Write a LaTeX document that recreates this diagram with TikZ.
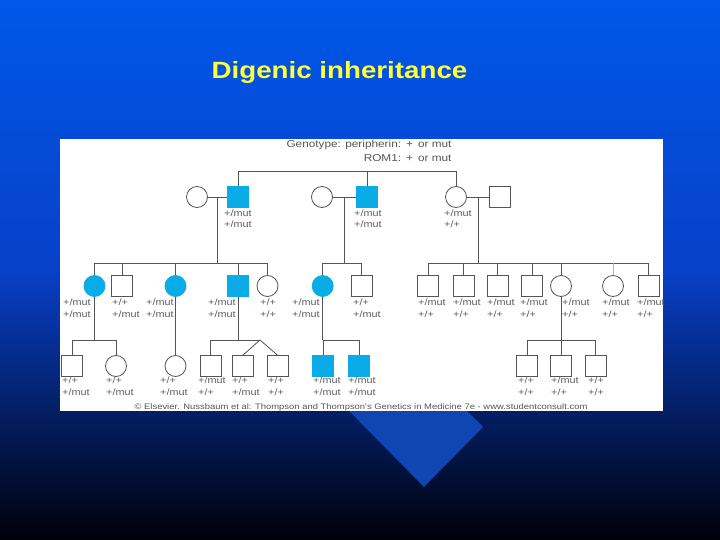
\documentclass[tikz,border=0pt]{standalone}
\usepackage{fontspec}
\setmainfont{Liberation Sans}
\newfontfamily\slidefont[FakeStretch=1.18]{Liberation Sans}
\definecolor{slideblue}{RGB}{0,88,232}
\definecolor{slidemid}{RGB}{8,64,200}
\definecolor{slidenight}{RGB}{0,0,8}
\definecolor{slidediamond}{RGB}{15,70,180}
\definecolor{titleyellow}{RGB}{255,255,60}
\definecolor{pedcyan}{RGB}{10,172,232}
\definecolor{pedgray}{RGB}{85,85,85}
\definecolor{genogray}{RGB}{95,95,95}
\usetikzlibrary{positioning}

\begin{document}
\begin{tikzpicture}[
  x=1pt,y=-1pt,
  every node/.style={font=\slidefont},
  male/.style={rectangle,draw=pedgray,line width=0.8pt,fill=white,
               minimum size=21pt,inner sep=0pt},
  female/.style={circle,draw=pedgray,line width=0.8pt,fill=white,
                 minimum size=21pt,inner sep=0pt},
  hit/.style={fill=pedcyan,draw=pedcyan},
  geno/.style={anchor=base west,align=left,inner sep=0pt,text=genogray,
               font=\slidefont\fontsize{9.2}{11.6}\selectfont},
  pedline/.style={draw=pedgray,line width=0.8pt},
]
  \useasboundingbox (0,0) rectangle (720,540);

  % Slide background
  \fill[top color=slideblue,bottom color=slidemid] (0,0) rectangle (720,270);
  \fill[top color=slidemid,bottom color=slidenight] (0,270) rectangle (720,540);
  \fill[slidediamond] (424,487) -- (483,427) -- (353,295) -- (294,355) -- cycle;
  \fill[white] (60,139) rectangle (663,411);

  % Title
  \node[anchor=base,text=titleyellow,
        font=\slidefont\bfseries\fontsize{23.5}{28}\selectfont] (title)
    at (339.5,78.3) {Digenic inheritance};

  % Key
  \node[anchor=base east,text=pedgray,font=\slidefont\fontsize{10}{12}\selectfont]
    (key1) at (455,147.7) {Genotype: peripherin:\enspace+\enspace or mut};
  \node[anchor=base east,text=pedgray,font=\slidefont\fontsize{10}{12}\selectfont]
    (key2) at (455,161.7) {ROM1:\enspace+\enspace or mut};

  % Couples
  \node[female]     (wA) at (197,197) {};
  \node[male,hit]   (mA) at (238,197) {};
  \node[female]     (wB) at (322,197) {};
  \node[male,hit]   (mB) at (367,197) {};
  \node[female]     (fC) at (456,197) {};
  \node[male]       (hC) at (500,197) {};

  % Second row
  \node[female,hit] (a1) at (94.5,286) {};
  \node[male]       (a2) at (122,286) {};
  \node[female,hit] (a3) at (175.5,286) {};
  \node[male,hit]   (a4) at (238,286) {};
  \node[female]     (a5) at (267.5,286) {};
  \node[female,hit] (b1) at (322.7,286) {};
  \node[male]       (b2) at (361.5,286) {};
  \node[male]       (c1) at (428,286) {};
  \node[male]       (c2) at (463.5,286) {};
  \node[male]       (c3) at (497.5,286) {};
  \node[male]       (c4) at (532,286) {};
  \node[female]     (c5) at (561,286) {};
  \node[female]     (c6) at (613,286) {};
  \node[male]       (c7) at (648.5,286) {};

  % Third row
  \node[male]       (g1) at (72,366) {};
  \node[female]     (g2) at (116,366) {};
  \node[female]     (h1) at (175.5,366) {};
  \node[male]       (k1) at (210.5,366) {};
  \node[male]       (k2) at (243,366) {};
  \node[male]       (k3) at (277.5,366) {};
  \node[male,hit]   (n1) at (323,366) {};
  \node[male,hit]   (n2) at (359,366) {};
  \node[male]       (p1) at (527,366) {};
  \node[male]       (p2) at (561,366) {};
  \node[male]       (p3) at (595.5,366) {};

  % Lines of descent
  \coordinate (gp) at (0,171);
  \coordinate (sibA) at (0,263);
  \coordinate (sibG) at (0,340);
  \coordinate (twin) at (260,340);
  \draw[pedline] (mA.north) -- (mA.north |- gp) -| (fC.north);
  \draw[pedline] (mB.north) -- (mB.north |- gp);
  \draw[pedline] (wA) -- coordinate (dA) (mA);
  \draw[pedline] (wB) -- coordinate (dB) (mB);
  \draw[pedline] (fC) -- coordinate (dC) (hC);
  \draw[pedline] (dA) -- (dA |- sibA);
  \draw[pedline] (dB) -- (dB |- sibA);
  \draw[pedline] (dC) -- (dC |- sibA);
  \draw[pedline] (a1.north) -- (a1.north |- sibA) -| (a5.north);
  \foreach \kid in {a2,a3,a4}
    \draw[pedline] (\kid.north) -- (\kid.north |- sibA);
  \draw[pedline] (b1.north) -- (b1.north |- sibA) -| (b2.north);
  \draw[pedline] (c1.north) -- (c1.north |- sibA) -| (c7.north);
  \foreach \kid in {c2,c3,c4,c5}
    \draw[pedline] (\kid.north) -- (\kid.north |- sibA);
  \draw[pedline,draw=pedgray!45] (c6.north) -- (c6.north |- sibA);

  \draw[pedline] (a1.south) -- (a1.south |- sibG);
  \draw[pedline] (g1.north) -- (g1.north |- sibG) -| (g2.north);
  \draw[pedline] (a3.south) -- (h1.north);
  \draw[pedline] (a4.south) -- (a4.south |- sibG);
  \draw[pedline] (k1.north) -- (k1.north |- sibG) -- (twin);
  \draw[pedline] (k2.north) -- (twin) -- (k3.north);
  \draw[pedline] (b1.south) -- (b1.south |- sibG);
  \draw[pedline] (n1.north) -- (n1.north |- sibG) -| (n2.north);
  \draw[pedline] (c5.south) -- (c5.south |- sibG);
  \draw[pedline] (p1.north) -- (p1.north |- sibG) -| (p3.north);
  \draw[pedline] (p2.north) -- (p2.north |- sibG);

  % Genotypes (anchored on the second line)
  \node[geno] (tA) at (224,228) {+/mut\\+/mut};
  \node[geno] (tB) at (354,228) {+/mut\\+/mut};
  \node[geno] (tC) at (444,228) {+/mut\\+/+};

  \node[geno] (ta1) at (63,317.5) {+/mut\\+/mut};
  \node[geno] (ta2) at (112,317.5) {+/+\\+/mut};
  \node[geno] (ta3) at (146,317.5) {+/mut\\+/mut};
  \node[geno] (ta4) at (208,317.5) {+/mut\\+/mut};
  \node[geno] (ta5) at (260,317.5) {+/+\\+/+};
  \node[geno] (tb1) at (292,317.5) {+/mut\\+/mut};
  \node[geno] (tb2) at (353,317.5) {+/+\\+/mut};
  \foreach \kid/\xpos in {c1/418,c2/453,c3/487,c4/520,c5/562,c6/602,c7/637}
    \node[geno] (t\kid) at (\xpos,317.5) {+/mut\\+/+};

  \node[geno] (tg1) at (62,395.5) {+/+\\+/mut};
  \node[geno] (tg2) at (106,395.5) {+/+\\+/mut};
  \node[geno] (th1) at (160,395.5) {+/+\\+/mut};
  \node[geno] (tk1) at (198,395.5) {+/mut\\+/+};
  \node[geno] (tk2) at (232,395.5) {+/+\\+/mut};
  \node[geno] (tk3) at (268,395.5) {+/+\\+/+};
  \node[geno] (tn1) at (313,395.5) {+/mut\\+/mut};
  \node[geno] (tn2) at (348,395.5) {+/mut\\+/mut};
  \node[geno] (tp1) at (518,395.5) {+/+\\+/+};
  \node[geno] (tp2) at (551,395.5) {+/mut\\+/+};
  \node[geno] (tp3) at (588,395.5) {+/+\\+/+};

  % Credit line
  \node[anchor=base,text=pedgray,font=\slidefont\fontsize{8}{10}\selectfont]
    (credit) at (361,409)
    {\textcopyright{} Elsevier. Nussbaum et al: Thompson and Thompson's Genetics in Medicine 7e - www.studentconsult.com};
\end{tikzpicture}
\end{document}
